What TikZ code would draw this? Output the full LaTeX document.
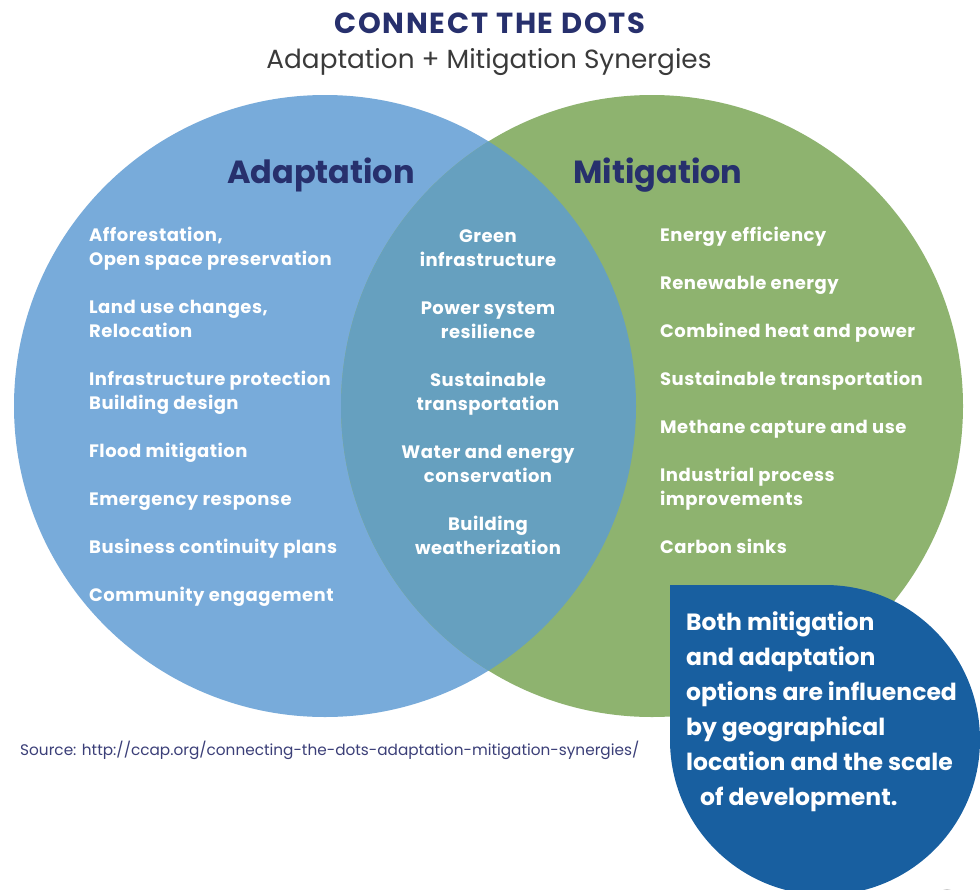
\documentclass[tikz,border=0pt]{standalone}
\usepackage{fontspec}
\setmainfont{Poppins}
\newfontfamily\widefont[LetterSpace=2.6]{Poppins}
\newfontfamily\titlefont[LetterSpace=6]{Poppins}
\definecolor{adaptblue}{HTML}{78ABDA}
\definecolor{mitgreen}{HTML}{8EB36F}
\definecolor{overlap}{HTML}{66A0BF}
\definecolor{bubble}{HTML}{185FA0}
\definecolor{navy}{HTML}{27306D}
\definecolor{subgray}{HTML}{3A3A3A}
\definecolor{srcnavy}{HTML}{3B3F78}
\tikzset{
  item/.style={font=\widefont\fontsize{18}{21}\selectfont\bfseries, text=white, inner sep=0pt, anchor=base west},
  mid/.style={font=\widefont\fontsize{18}{21}\selectfont\bfseries, text=white, inner sep=0pt, anchor=base},
  heading/.style={font=\fontsize{32}{36}\selectfont\bfseries, text=navy, inner sep=0pt, anchor=base},
  note/.style={font=\fontsize{23.5}{28}\selectfont\bfseries, text=white, inner sep=0pt, anchor=base west},
}
\begin{document}
\begin{tikzpicture}[x=1pt,y=-1pt]
\useasboundingbox (0,0) rectangle (980,889);
\clip (0,0) rectangle (980,889);
\fill[white] (0,0) rectangle (980,889);

% the two sets and their intersection
\fill[adaptblue] (325,406) circle[radius=311];
\fill[mitgreen] (652,406) circle[radius=311];
\begin{scope}
  \clip (325,406) circle[radius=311];
  \fill[overlap] (652,406) circle[radius=311];
\end{scope}

% title
\node[font=\titlefont\fontsize{29}{32}\selectfont\bfseries, text=navy, inner sep=0pt, anchor=base] (title) at (490,33) {CONNECT THE DOTS};
\node[font=\fontsize{26.3}{30}\selectfont, text=subgray, inner sep=0pt, anchor=base] (subtitle) at (489,68) {Adaptation + Mitigation Synergies};

% set headings
\node[heading] (hA) at (321,183) {Adaptation};
\node[heading] (hM) at (658,183) {Mitigation};

% adaptation measures
\foreach \yy/\tt [count=\i] in {241/{Afforestation,}, 265/{Open space preservation},
  313/{Land use changes,}, 337/{Relocation}, 385/{Infrastructure protection},
  409/{Building design}, 457/{Flood mitigation}, 505/{Emergency response},
  553/{Business continuity plans}, 601/{Community engagement}}
  \node[item] (adapt\i) at (89,\yy) {\tt};

% shared measures
\foreach \yy/\tt [count=\i] in {242/{Green}, 266/{infrastructure},
  314/{Power system}, 338/{resilience}, 386/{Sustainable}, 410/{transportation},
  458/{Water and energy}, 482/{conservation}, 530/{Building}, 554/{weatherization}}
  \node[mid] (both\i) at (488,\yy) {\tt};

% mitigation measures
\foreach \yy/\tt [count=\i] in {241/{Energy efficiency}, 289/{Renewable energy},
  337/{Combined heat and power}, 385/{Sustainable transportation},
  433/{Methane capture and use}, 481/{Industrial process}, 505/{improvements},
  553/{Carbon sinks}}
  \node[item] (mitig\i) at (660,\yy) {\tt};

% source line
\node[font=\fontsize{15.3}{18}\selectfont, text=srcnavy, inner sep=0pt, anchor=base west] (src) at (20,755)
  {Source: http://ccap.org/connecting-the-dots-adaptation-mitigation-synergies/};

% callout bubble
\fill[bubble] (670,585) -- (825,585) arc[start angle=-90, end angle=180, radius=155] -- cycle;
\fill[gray!40] (947,897) circle[radius=8];
\foreach \yy/\tt [count=\i] in {630/{Both mitigation}, 665/{and adaptation},
  700/{options are influenced}, 735/{by geographical}, 770/{location and the scale}}
  \node[note] (note\i) at (686,\yy) {\tt};
\node[note] (note6) at (700,805) {of development.};
\end{tikzpicture}
\end{document}
